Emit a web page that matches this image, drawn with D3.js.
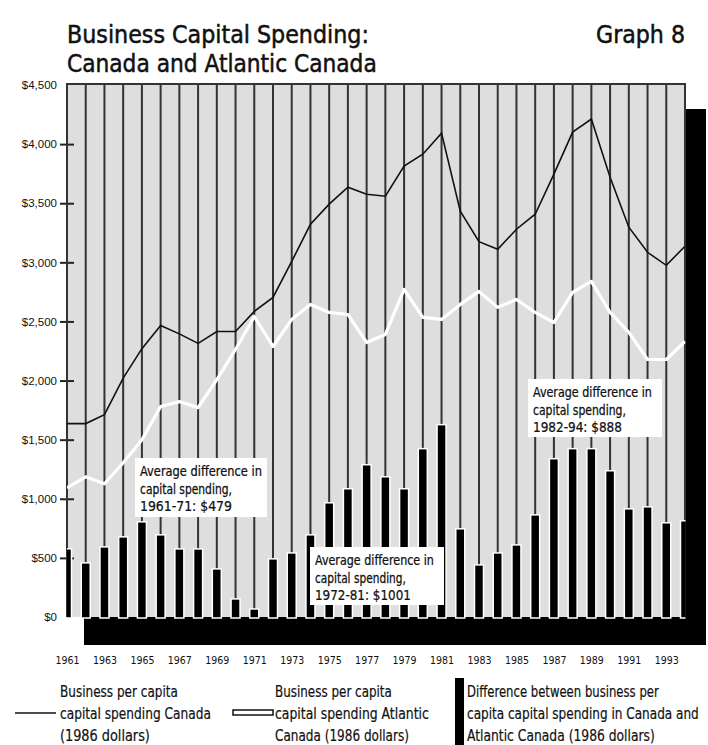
<!DOCTYPE html>
<html><head><meta charset="utf-8">
<script src="https://cdn.jsdelivr.net/npm/d3@7"></script>
<style>
body{margin:0;background:#fff}
svg{display:block}
text{font-family:"Liberation Sans Narrow","DejaVu Sans Condensed","Liberation Sans",sans-serif;fill:#111}
</style>
</head><body>
<svg id="chart" width="708" height="745"></svg>
<script>
// ---------------- DATA ----------------
const years = [1961,1962,1963,1964,1965,1966,1967,1968,1969,1970,
               1971,1972,1973,1974,1975,1976,1977,1978,1979,1980,
               1981,1982,1983,1984,1985,1986,1987,1988,1989,1990,
               1991,1992,1993,1994];
// Business per capita capital spending, Canada (1986 dollars)
const canada = [1636,1636,1712,2020,2270,2466,2395,2314,2415,2415,
                2585,2703,3008,3322,3492,3636,3576,3559,3814,3915,
                4093,3432,3175,3110,3280,3407,3746,4102,4212,3720,
                3297,3085,2975,3136];
// Business per capita capital spending, Atlantic Canada (1986 dollars)
const atlantic = [1093,1186,1127,1305,1500,1780,1822,1771,2008,2263,
                  2542,2288,2517,2644,2576,2559,2322,2390,2771,2534,
                  2517,2644,2754,2619,2686,2576,2491,2746,2839,2576,
                  2407,2178,2178,2331];
// Difference between Canada and Atlantic Canada
const difference = [577,458,593,678,805,695,576,576,407,153,
                    68,492,542,695,966,1085,1288,1186,1085,1424,
                    1627,746,441,542,610,864,1339,1424,1424,1237,
                    915,932,797,814];
const yTickValues = [0,500,1000,1500,2000,2500,3000,3500,4000,4500];
const xTickYears = [1961,1963,1965,1967,1969,1971,1973,1975,1977,1979,1981,1983,1985,1987,1989,1991,1993];
const titleLines = ["Business Capital Spending:","Canada and Atlantic Canada"];
const graphLabel = "Graph 8";
const note1 = ["Average difference in","capital spending,","1961-71: $479"];
const note2 = ["Average difference in","capital spending,","1972-81: $1001"];
const note3 = ["Average difference in","capital spending,","1982-94: $888"];
const legend1 = ["Business per capita","capital spending Canada","(1986 dollars)"];
const legend2 = ["Business per capita","capital spending Atlantic","Canada (1986 dollars)"];
const legend3 = ["Difference between business per","capita capital spending in Canada and","Atlantic Canada (1986 dollars)"];

// ---------------- LAYOUT ----------------
const L = {left:67,right:685,top:84,bottom:617};
const svg = d3.select("#chart");
const x = d3.scalePoint().domain(years).range([L.left,L.right]);
const y = d3.scaleLinear().domain([0,4500]).range([L.bottom,85]);

// text squeezed horizontally to a target width (real transform so bounds are exact)
function fitText(parent, t, tx, ty, size, width, strokeW){
  const g = parent.append("g");
  const txt = g.append("text").attr("x",0).attr("y",0).attr("font-size",size)
    .attr("stroke","#111").attr("stroke-width",strokeW).text(t);
  const nat = txt.node().getComputedTextLength();
  const sx = width / nat;
  g.attr("transform",`translate(${tx},${ty}) scale(${sx},1)`);
  txt.attr("stroke-width",strokeW);
  return g;
}

// shadow
svg.append("rect").attr("x",84).attr("y",109).attr("width",706-84).attr("height",645-109).attr("fill","#000");
// plot background
svg.append("rect").attr("x",L.left).attr("y",L.top).attr("width",L.right-L.left).attr("height",L.bottom-L.top).attr("fill","#dedede");

// clip
svg.append("clipPath").attr("id","clip").append("rect")
  .attr("x",L.left).attr("y",L.top).attr("width",L.right-L.left+0.5).attr("height",L.bottom-L.top+3);

// Y axis
const yAxis = svg.append("g").attr("transform",`translate(${L.left},0)`)
  .call(d3.axisLeft(y).tickValues(yTickValues).tickFormat(d3.format("$,")).tickSize(7).tickPadding(3));
yAxis.select(".domain").remove();
yAxis.selectAll(".tick line").attr("x1",7).attr("stroke","#222").attr("stroke-width",2)
  .filter(d=>d===0||d===4500).remove();
yAxis.selectAll(".tick text").attr("font-size",11.5).attr("fill","#333")
  .style("font-family","'Liberation Sans',sans-serif");

// vertical grid lines
svg.append("g").selectAll("line").data(years).join("line")
  .attr("x1",d=>x(d)).attr("x2",d=>x(d)).attr("y1",L.top).attr("y2",L.bottom)
  .attr("stroke","#333").attr("stroke-width",2);
// top border
svg.append("line").attr("x1",L.left-1).attr("x2",L.right+1).attr("y1",L.top).attr("y2",L.top)
  .attr("stroke","#333").attr("stroke-width",2);

const plot = svg.append("g").attr("clip-path","url(#clip)");
// bars
plot.append("g").selectAll("rect").data(years).join("rect")
  .attr("x",d=>x(d)-4.5).attr("width",9)
  .attr("y",(d,i)=>y(difference[i]))
  .attr("height",(d,i)=>y(0)-y(difference[i])+1)
  .attr("fill","#000").attr("stroke","#fff").attr("stroke-width",1.5);

// lines
const lineGen = arr => d3.line().x((d,i)=>x(years[i])).y(d=>y(d))(arr);
plot.append("path").attr("d",lineGen(atlantic)).attr("fill","none")
  .attr("stroke","#fff").attr("stroke-width",3.2).attr("stroke-linejoin","round");
plot.append("path").attr("d",lineGen(canada)).attr("fill","none")
  .attr("stroke","#111").attr("stroke-width",1.6);

// annotations
function note(lines, bx, by, bw, bh, widths){
  const g = svg.append("g");
  g.append("rect").attr("x",bx).attr("y",by).attr("width",bw).attr("height",bh).attr("fill","#fff");
  lines.forEach((t,i)=>fitText(g, t, bx+5, by+18+i*17.5, 13.5, widths[i], 0.25));
}
note(note1,135,458,132,59,[122,92,92]);
note(note2,310,547,134,58,[119,91,96]);
note(note3,528,379,134,58,[119,93,89]);

// X axis labels
const xAxis = svg.append("g").attr("transform","translate(0,654)")
  .call(d3.axisBottom(x).tickValues(xTickYears).tickSize(0).tickPadding(3));
xAxis.select(".domain").remove();
xAxis.selectAll(".tick text").attr("font-size",10.5).attr("fill","#222");

// title
fitText(svg, titleLines[0], 67, 43, 25, 302, 0.5);
fitText(svg, titleLines[1], 67, 72, 25, 310, 0.5);
fitText(svg, graphLabel, 596, 43, 25, 89, 0.5);

// legend
function legendText(lines, lx, widths){
  lines.forEach((t,i)=>fitText(svg, t, lx, 697+i*22, 16, widths[i], 0.2));
}
svg.append("line").attr("x1",15).attr("x2",56).attr("y1",713).attr("y2",713).attr("stroke","#111").attr("stroke-width",1.6);
legendText(legend1,60,[118,151,90]);
svg.append("rect").attr("x",233).attr("y",710).attr("width",40).attr("height",5)
  .attr("fill","#fff").attr("stroke","#111").attr("stroke-width",1.5);
legendText(legend2,275,[117,154,134]);
svg.append("rect").attr("x",455).attr("y",678).attr("width",9).attr("height",67).attr("fill","#000");
legendText(legend3,467,[192,232,188]);
</script>
</body></html>
